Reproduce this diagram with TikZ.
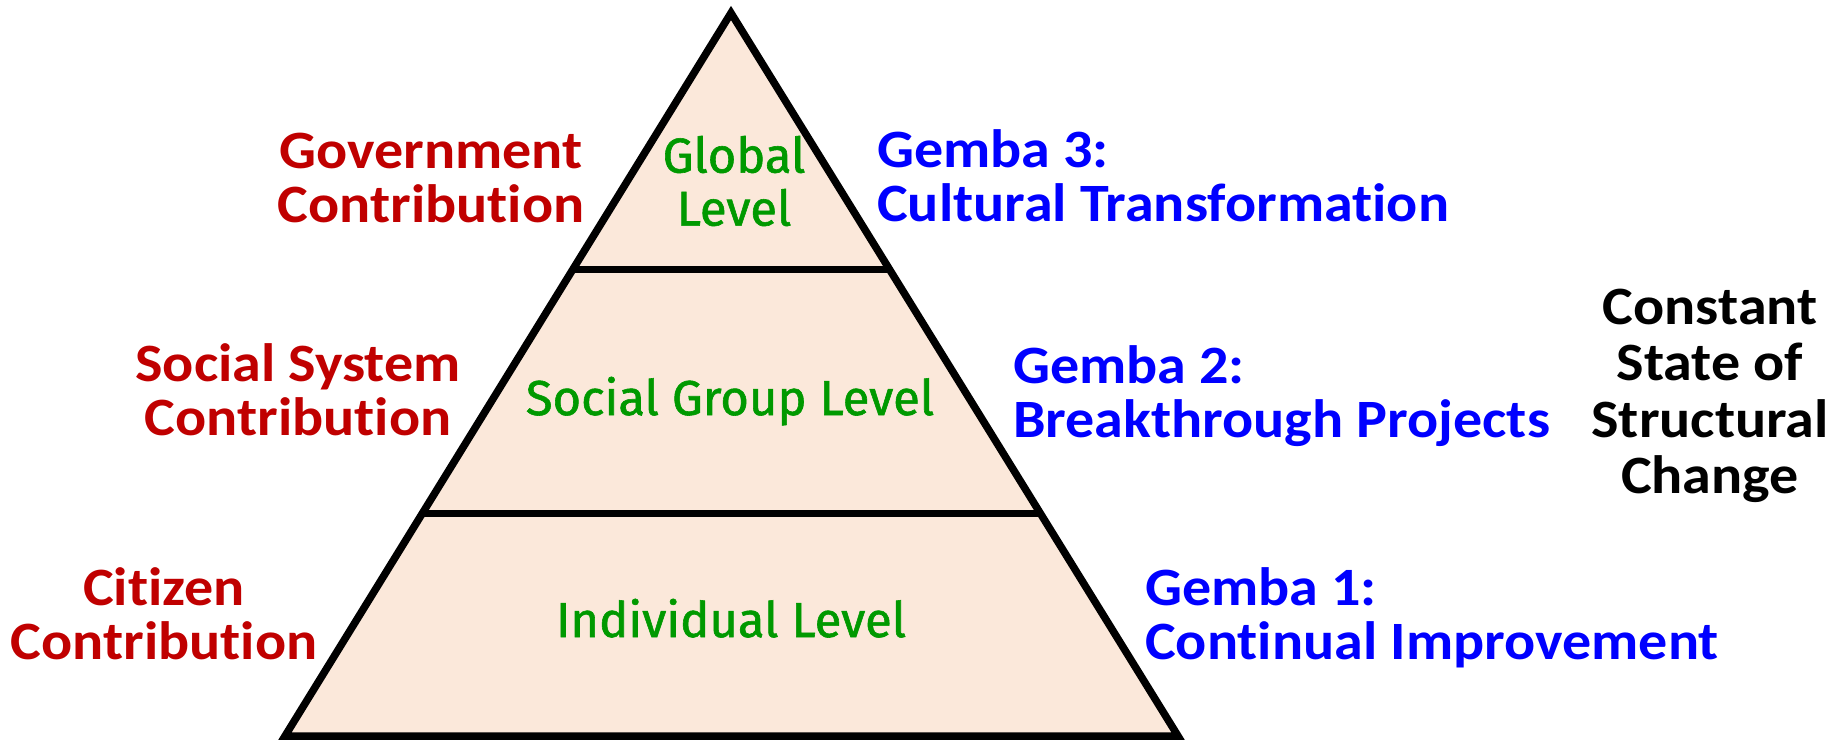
\documentclass[tikz,border=0pt]{standalone}
\usepackage{fontspec}
\setmainfont{Carlito}
\newfontfamily\labelfont{Carlito}[BoldFeatures={FakeStretch=1.075}, Ligatures=NoCommon]
\newfontfamily\levelfont{Fira Sans}[FakeBold=1.2]
\usetikzlibrary{calc}

\definecolor{contribred}{HTML}{C00000}
\definecolor{gembablue}{HTML}{0000FF}
\definecolor{levelgreen}{HTML}{009900}
\definecolor{pyramidfill}{HTML}{FBE8DA}

\def\pyrLine{7.5pt}

\tikzset{
    contrib/.style = {text=contribred, font=\labelfont\bfseries\fontsize{54}{54}\selectfont, align=center, inner sep=0pt},
    gemba/.style = {text=gembablue, font=\labelfont\bfseries\fontsize{54}{54}\selectfont, align=left, inner sep=0pt, anchor=west},
    levellabel/.style = {text=levelgreen, font=\levelfont\fontsize{49}{53}\selectfont, align=center, inner sep=0pt},
}

\begin{document}
\begin{tikzpicture}[x=1pt, y=-1pt]
            \fill [white] (0,0) rectangle (1845,740);
            \useasboundingbox (0,0) rectangle (1845,740);

            % pyramid
            \coordinate (apex) at (731,13);
            \coordinate (baseL) at (285,736);
            \coordinate (baseR) at (1178,736);
            \draw [line width = \pyrLine, fill = pyramidfill]
            (apex) -- (baseR) -- (baseL) -- cycle
            ;
            \foreach \t/\n in {0.355/upper,0.692/lower} {
                \coordinate (\n L) at ($(apex)!\t!(baseL)$);
                \coordinate (\n R) at ($(apex)!\t!(baseR)$);
                \draw [line width = \pyrLine] (\n L) -- (\n R);
            }

            % levels
            \node [levellabel] (global) at (734,181) {Global\\Level};
            \node [levellabel, anchor=base] (socialgroup) at (730,415) {Social Group Level};
            \node [levellabel, anchor=base] (individual) at (731,637) {Individual Level};

            % contributions
            \node [contrib] (government) at (431,178) {Government\\Contribution};
            \node [contrib] (socialsystem) at (298,390) {Social System\\Contribution};
            \node [contrib] (citizen) at (164,614) {Citizen\\Contribution};

            % gembas
            \node [gemba] (gemba3) at (877,176) {Gemba 3:\\Cultural Transformation};
            \node [gemba] (gemba2) at (1013,396) {Gemba 2:\\Breakthrough Projects};
            \node [gemba] (gemba1) at (1145,618) {Gemba 1:\\Continual Improvement};

            \node [contrib, text=black, font=\labelfont\bfseries\fontsize{54}{56.5}\selectfont] (structural) at (1710,396)
            {Constant\\State of\\Structural\\Change};
\end{tikzpicture}
\end{document}
